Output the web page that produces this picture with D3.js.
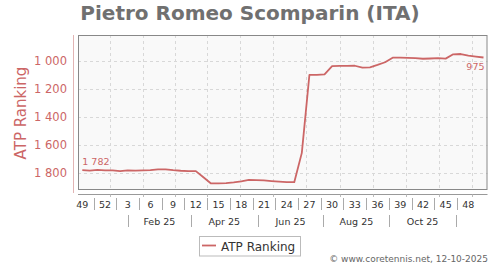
<!DOCTYPE html>
<html><head><meta charset="utf-8">
<script src="https://cdn.jsdelivr.net/npm/d3@7"></script>
<style>body{margin:0;background:#fff}svg{display:block;font-family:"DejaVu Sans",sans-serif}</style>
</head><body><svg id="c" width="500" height="270"></svg>
<script>
// ---- data ----
const weeks = [49,50,51,52,1,2,3,4,5,6,7,8,9,10,11,12,13,14,15,16,17,18,19,20,21,22,23,24,25,26,27,28,29,30,31,32,33,34,35,36,37,38,39,40,41,42,43,44,45,46,47,48,49,50];
const ranking = [1782,1785,1780,1783,1784,1788,1783,1785,1784,1782,1776,1776,1782,1786,1788,1789,1833,1877,1876,1874,1870,1862,1852,1853,1855,1860,1864,1868,1868,1658,1100,1099,1096,1036,1035,1035,1034,1048,1045,1028,1009,976,976,977,980,984,982,980,983,952,950,961,968,975];
const yTicks = [1000,1200,1400,1600,1800];
const monthLabels = ["Feb 25","Apr 25","Jun 25","Aug 25","Oct 25"];
const monthBounds = [6.0,14.36,23.17,31.85,40.57,49.34];   // in weeks from first point
const gridWeeks = [3.66,8.06,12.24,16.51,20.83,25.23,29.55,34.04,38.44,42.72,47.1,51.43];
const seriesName = "ATP Ranking";
const titleText = "Pietro Romeo Scomparin (ITA)";
const footerText = "\u00a9 www.coretennis.net, 12-10-2025";

// ---- chart ----
const svg = d3.select("#c");
const red = "#cc6666";
const fmt = v => d3.format(",")(v).replace(/,/g, " ");

const pL = 78, pR = 487.5, pT = 35, pB = 190;
const x = d3.scaleLinear().domain([0, ranking.length - 1]).range([82.3, 483.5]);
const y = d3.scaleLinear().domain([1000, 1800]).range([61, 172.7]);

svg.append("text").attr("x", 250).attr("y", 20).attr("text-anchor", "middle")
  .attr("font-size", 20).attr("font-weight", "bold").attr("fill", "#707070").text(titleText);

svg.append("rect").attr("x", pL + 0.5).attr("y", pT + 0.5)
  .attr("width", pR - pL - 1).attr("height", pB - pT - 1)
  .attr("fill", "#f9f9f9").attr("stroke", "none");

// grid
svg.append("g").selectAll("line").data(yTicks).join("line")
  .attr("x1", pL).attr("x2", pR).attr("y1", d => Math.round(y(d)) + 0.5).attr("y2", d => Math.round(y(d)) + 0.5)
  .attr("stroke", "#d8d8d8").attr("stroke-dasharray", "3,3");
svg.append("g").selectAll("line").data(gridWeeks).join("line")
  .attr("x1", d => Math.round(x(d)) + 0.5).attr("x2", d => Math.round(x(d)) + 0.5).attr("y1", pT).attr("y2", pB)
  .attr("stroke", "#d8d8d8").attr("stroke-dasharray", "3,3");

svg.append("rect").attr("x", pL + 0.5).attr("y", pT + 0.5)
  .attr("width", pR - pL - 1).attr("height", pB - pT - 1)
  .attr("fill", "none").attr("stroke", "#888");

// y axis
svg.append("line").attr("x1", 73.5).attr("x2", 73.5).attr("y1", pT).attr("y2", 193)
  .attr("stroke", "#e2b4b4");
svg.append("g").selectAll("text").data(yTicks).join("text")
  .attr("x", 67).attr("y", d => y(d) + 4).attr("text-anchor", "end")
  .attr("font-size", 11.5).attr("fill", red).text(fmt);
svg.append("text").attr("transform", "translate(26,113) rotate(-90)").attr("text-anchor", "middle")
  .attr("font-size", 15).attr("fill", red).text(seriesName);

// x axis
svg.append("line").attr("x1", pL).attr("x2", pR).attr("y1", 194.5).attr("y2", 194.5).attr("stroke", "#999");
svg.append("g").selectAll("line").data(gridWeeks).join("line")
  .attr("x1", d => Math.round(x(d)) + 0.5).attr("x2", d => Math.round(x(d)) + 0.5).attr("y1", 194.5).attr("y2", 197)
  .attr("stroke", "#bbb");
const weekIdx = d3.range(0, weeks.length - 1, 3);
svg.append("g").selectAll("text").data(weekIdx).join("text")
  .attr("x", i => x(i)).attr("y", 207.5).attr("text-anchor", "middle")
  .attr("font-size", 9.5).attr("fill", "#333").text(i => weeks[i]);
svg.append("g").selectAll("line").data(weekIdx.slice(0, -1)).join("line")
  .attr("x1", i => Math.round(x(i + 1.5)) + 0.5).attr("x2", i => Math.round(x(i + 1.5)) + 0.5)
  .attr("y1", 198).attr("y2", 210).attr("stroke", "#aaa");
svg.append("g").selectAll("line").data(monthBounds).join("line")
  .attr("x1", d => Math.round(x(d)) + 0.5).attr("x2", d => Math.round(x(d)) + 0.5)
  .attr("y1", 215).attr("y2", 227).attr("stroke", "#aaa");
svg.append("g").selectAll("text").data(monthLabels).join("text")
  .attr("x", (d, i) => x((monthBounds[i] + monthBounds[i + 1]) / 2)).attr("y", 224.5).attr("text-anchor", "middle")
  .attr("font-size", 9.5).attr("fill", "#333").text(d => d);

// series
svg.append("path").datum(ranking)
  .attr("d", d3.line().x((d, i) => x(i)).y(d => y(d)))
  .attr("fill", "none").attr("stroke", red).attr("stroke-width", 1.8).attr("stroke-linejoin", "round");

svg.append("text").attr("x", x(0)).attr("y", y(ranking[0]) - 5.5)
  .attr("font-size", 9.5).attr("fill", red).text(fmt(ranking[0]));
svg.append("text").attr("x", x(ranking.length - 1) + 1).attr("y", y(ranking[ranking.length - 1]) + 12.5).attr("text-anchor", "end")
  .attr("font-size", 9.5).attr("fill", red).text(fmt(ranking[ranking.length - 1]));

// legend
svg.append("rect").attr("x", 199.5).attr("y", 236.5).attr("width", 101).attr("height", 19.5)
  .attr("fill", "#fff").attr("stroke", "#bbb");
svg.append("line").attr("x1", 202).attr("x2", 216).attr("y1", 245.5).attr("y2", 245.5)
  .attr("stroke", red).attr("stroke-width", 1.8);
svg.append("text").attr("x", 221).attr("y", 250.5).attr("font-size", 12).attr("fill", "#333").text(seriesName);

svg.append("text").attr("x", 488).attr("y", 262).attr("text-anchor", "end")
  .attr("font-size", 9).attr("fill", "#666").text(footerText);
</script></body></html>
